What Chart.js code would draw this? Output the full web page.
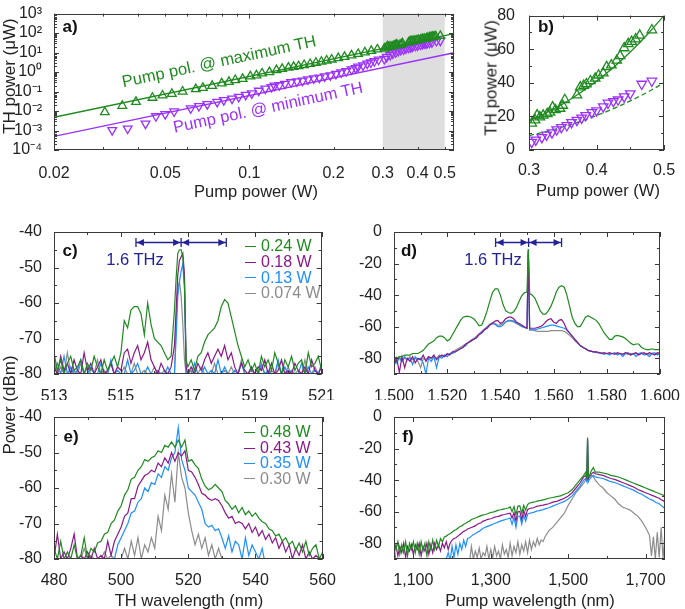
<!DOCTYPE html>
<html>
<head>
<meta charset="utf-8">
<script src="https://cdn.jsdelivr.net/npm/chart.js@4.4.1/dist/chart.umd.min.js"></script>
<style>
  body { margin: 0; background: #fff; }
  #fig { position: relative; width: 685px; height: 609px; overflow: hidden;
         font-family: "Liberation Sans", Arial, sans-serif; color: #222; }
  canvas { position: absolute; }
  .t { position: absolute; white-space: nowrap; line-height: 1; font-size: 16.5px;
       transform: translate(-50%, -50%); }
  .v { transform: translate(-50%, -50%) rotate(-90deg); font-size: 17px; }
  .p { font-weight: bold; font-size: 17px; color: #111; }
  .leg { position: absolute; white-space: nowrap; line-height: 1; font-size: 16px;
         transform: translateY(-50%); display: flex; align-items: center; }
  .leg i { display: inline-block; width: 11px; border-top: 1.5px solid currentColor; margin-right: 5px; }
</style>
</head>
<body>
<div id="fig">
  <canvas id="ca" width="462" height="200" style="left:0;top:0"></canvas>
  <canvas id="cb" width="223" height="200" style="left:462px;top:0"></canvas>
  <canvas id="cc" width="340" height="200" style="left:0;top:200px"></canvas>
  <canvas id="cd" width="345" height="200" style="left:340px;top:200px"></canvas>
  <canvas id="ce" width="340" height="209" style="left:0;top:400px"></canvas>
  <canvas id="cf" width="345" height="209" style="left:340px;top:400px"></canvas>

  <div class="t p" style="left:70px;top:26px">a)</div>
  <div class="t p" style="left:546px;top:26px">b)</div>
  <div class="t p" style="left:70px;top:250px">c)</div>
  <div class="t p" style="left:409px;top:250px">d)</div>
  <div class="t p" style="left:71px;top:436px">e)</div>
  <div class="t p" style="left:408px;top:436px">f)</div>

  <div class="t v" style="left:9px;top:76px">TH power (μW)</div>
  <div class="t v" style="left:491px;top:78px">TH power (μW)</div>
  <div class="t" style="left:256px;top:191px">Pump power (W)</div>
  <div class="t" style="left:598px;top:190px">Pump power (W)</div>
  <div class="t v" style="left:9px;top:405px">Power (dBm)</div>
  <div class="t" style="left:189px;top:600px">TH wavelength (nm)</div>
  <div class="t" style="left:530px;top:600px">Pump wavelength (nm)</div>

  <div class="t" style="left:219px;top:61px;font-size:16.5px;color:#1f8a1f;transform:translate(-50%,-50%) rotate(-12deg)">Pump pol. @ maximum TH</div>
  <div class="t" style="left:268px;top:107px;font-size:16.5px;color:#9b30ff;transform:translate(-50%,-50%) rotate(-12deg)">Pump pol. @ minimum TH</div>

  <div class="t" style="left:135px;top:259px;color:#232396">1.6 THz</div>
  <div class="t" style="left:493px;top:259px;color:#232396">1.6 THz</div>

  <div class="leg" style="left:245px;top:246px;color:#1f8a1f"><i></i>0.24 W</div>
  <div class="leg" style="left:245px;top:262px;color:#8b1a89"><i></i>0.18 W</div>
  <div class="leg" style="left:245px;top:277.5px;color:#1e90ff"><i></i>0.13 W</div>
  <div class="leg" style="left:245px;top:293px;color:#8c8c8c"><i></i>0.074 W</div>

  <div class="leg" style="left:244px;top:432px;color:#1f8a1f"><i></i>0.48 W</div>
  <div class="leg" style="left:244px;top:448px;color:#8b1a89"><i></i>0.43 W</div>
  <div class="leg" style="left:244px;top:463px;color:#1e90ff"><i></i>0.35 W</div>
  <div class="leg" style="left:244px;top:478.5px;color:#8c8c8c"><i></i>0.30 W</div>
</div>

<script>
const GREEN = "#1f8a1f", VIOLET = "#9b30ff", PURPLE = "#8b1a89", BLUE = "#1e90ff", GRAY = "#8c8c8c", NAVY = "#232396";

// ---- panel a / b : TH power vs pump power ----
const aGreenX = [0.0304,0.0351,0.0393,0.045,0.0489,0.0528,0.0577,0.0643,0.0682,0.0736,0.0796,0.0845,0.089,0.0946,0.1008,0.106,0.111,0.118,0.125,0.131,0.138,0.144,0.150,0.157,0.165,0.173,0.181,0.189,0.197,0.208,0.219,0.232,0.245,0.259,0.273,0.287];
const aGreenY = [0.0087,0.0186,0.0295,0.048,0.063,0.076,0.1,0.133,0.155,0.195,0.263,0.316,0.39,0.45,0.6,0.68,0.85,1.0,1.25,1.45,1.7,1.85,2.0,2.3,2.6,3.0,3.4,3.9,4.4,5.2,6.0,7.2,8.5,10.2,12.2,14.5];
const aPurpleX = [0.0323,0.0367,0.0425,0.0463,0.05,0.0538,0.0617,0.066,0.0707,0.0767,0.081,0.0867,0.0916,0.097,0.102,0.108,0.114,0.12,0.123,0.128,0.134,0.141,0.148,0.155,0.162,0.17,0.178,0.186,0.195,0.204,0.213,0.222,0.232,0.24,0.245,0.255,0.264,0.272,0.28,0.29];
const aPurpleY = [0.00105,0.00126,0.00224,0.0054,0.0069,0.0095,0.0138,0.018,0.0226,0.0295,0.036,0.043,0.053,0.067,0.081,0.11,0.14,0.17,0.2,0.21,0.25,0.3,0.33,0.36,0.42,0.47,0.52,0.6,0.68,0.8,0.95,1.1,1.35,1.6,1.9,2.2,2.7,3.1,3.6,4.3];
const aFitX = [0.02, 0.54];
const aFitGreen = [0.0048, 94];
const aFitPurple = [0.0005, 9.8];
const aShade = [0.3, 0.5];
const aXLabels = [0.02, 0.05, 0.1, 0.2, 0.3, 0.4, 0.5];
const aYTicks = [1e-4, 1e-3, 1e-2, 1e-1, 1, 10, 100, 1000];
const aYText = ["10\u207B\u2074", "10\u207B\u00B3", "10\u207B\u00B2", "10\u207B\u00B9", "10\u2070", "10\u00B9", "10\u00B2", "10\u00B3"];

const bGreenX = [0.304,0.309,0.312,0.316,0.321,0.327,0.331,0.335,0.339,0.346,0.350,0.353,0.371,0.376,0.381,0.385,0.391,0.398,0.403,0.410,0.415,0.422,0.430,0.435,0.441,0.447,0.452,0.458,0.464,0.482];
const bGreenY = [15.9,17.8,20.8,19.6,20.6,21.5,22.4,25.5,23.9,24.7,26.5,29.9,32.7,37.4,38.3,39.3,41.1,42.6,44.5,45.8,49.5,50.5,53.3,56.0,60.7,63.2,64.5,66.0,68.2,71.4];
const bPurpleX = [0.304,0.310,0.319,0.326,0.334,0.341,0.348,0.356,0.363,0.371,0.378,0.384,0.393,0.400,0.410,0.417,0.425,0.432,0.441,0.450,0.467,0.482];
const bPurpleY = [4.7,6.0,7.5,9.0,10.3,12.1,13.5,14.6,16.4,17.8,19.1,20.6,22.4,23.4,25.8,28.0,29.0,29.9,31.8,33.6,39.3,41.1];
const bFitX = [0.30,0.325,0.35,0.375,0.40,0.425,0.45,0.475,0.50];
const bFitSolid = [17.3,22,27.4,33.8,41,49.1,58.3,68.6,80];
const bFitDashed = [8.6,11,13.7,16.9,20.5,24.6,29.2,34.3,40];

// ---- panel c : TH spectra, low pump ----
const cX = [513.0,513.1,513.2,513.3,513.4,513.5,513.6,513.7,513.8,513.9,
  514.0,514.1,514.2,514.3,514.4,514.5,514.6,514.7,514.8,514.9,
  515.0,515.1,515.2,515.3,515.4,515.5,515.6,515.7,515.8,515.9,
  516.0,516.1,516.2,516.3,516.4,516.5,516.6,516.65,516.7,516.75,516.8,516.85,516.9,516.95,
  517.0,517.1,517.2,517.3,517.4,517.5,517.6,517.7,517.8,517.9,
  518.0,518.1,518.2,518.3,518.4,518.5,518.6,518.7,518.8,518.9,
  519.0,519.1,519.2,519.3,519.4,519.5,519.6,519.7,519.8,519.9,
  520.0,520.1,520.2,520.3,520.4,520.5,520.6,520.7,520.8,520.9,521.0];
const cGreen = [-74,-79,-76,-80,-77,-75,-79,-78,-76,-80,
  -77,-79,-75,-78,-80,-76,-79,-77,-75,-78,
  -74,-65,-67,-62,-61,-61,-63,-69,-60,-66,
  -70,-71,-72,-74,-76,-75,-62,-53,-46,-45,-45,-47,-55,-76,
  -78,-76,-79,-75,-74,-71,-69,-68,-67,-65,
  -61,-59,-60,-64,-68,-72,-75,-78,-76,-79,
  -77,-80,-75,-78,-76,-79,-74,-77,-80,-76,
  -78,-75,-79,-77,-76,-80,-74,-78,-77,-75,-79];
const cPurple = [-78,-80,-75,-79,-77,-80,-76,-79,-80,-74,
  -79,-77,-80,-78,-76,-80,-79,-77,-80,-78,
  -79,-74,-73,-77,-74,-72,-76,-74,-71,-76,
  -78,-80,-77,-79,-80,-78,-72,-62,-52,-48,-47,-46,-52,-78,
  -80,-78,-80,-77,-79,-76,-74,-77,-75,-73,
  -75,-72,-76,-74,-78,-80,-77,-79,-80,-78,
  -80,-78,-79,-76,-80,-77,-80,-79,-76,-80,
  -79,-80,-77,-79,-80,-78,-80,-76,-79,-80,-78];
const cBlue = [-80,-77,-80,-75,-80,-78,-80,-79,-76,-80,
  -80,-78,-80,-80,-77,-80,-80,-76,-80,-79,
  -80,-80,-76,-80,-79,-77,-80,-80,-78,-80,
  -80,-79,-80,-80,-78,-80,-80,-70,-58,-54,-51,-49,-56,-80,
  -80,-80,-77,-80,-80,-78,-80,-79,-80,-76,
  -80,-78,-80,-80,-79,-80,-77,-80,-80,-78,
  -80,-80,-77,-80,-79,-80,-80,-76,-80,-78,
  -80,-79,-80,-80,-77,-80,-78,-80,-79,-80,-77];
const cGray = [-76,-80,-78,-80,-74,-80,-79,-80,-77,-80,
  -78,-80,-80,-76,-80,-79,-80,-77,-80,-80,
  -80,-78,-80,-80,-77,-80,-80,-79,-80,-80,
  -78,-80,-80,-79,-80,-80,-80,-66,-56,-54,-58,-66,-76,-80,
  -80,-79,-80,-80,-78,-80,-80,-80,-77,-80,
  -80,-79,-80,-78,-80,-80,-76,-80,-80,-79,
  -80,-80,-78,-80,-80,-79,-80,-77,-80,-80,
  -78,-80,-80,-79,-80,-76,-80,-80,-78,-80,-80];
const cThz = [515.45, 516.8, 518.15];

// ---- panel d : pump spectra, low pump ----
const dX = [1500,1501,1502,1503,1504,1505,1506,1507,1508,1509,
  1510,1511,1512,1513,1514,1515,1516,1517,1518,1519,
  1520,1521,1522,1523,1524,1525,1526,1527,1528,1529,
  1530,1531,1532,1533,1534,1535,1536,1537,1538,1539,
  1540,1541,1542,1543,1544,1545,1546,1547,1548,1549,
  1550,1550.5,1551,1552,1553,1554,1555,1556,1557,1558,1559,
  1560,1561,1562,1563,1564,1565,1566,1567,1568,1569,
  1570,1571,1572,1573,1574,1575,1576,1577,1578,1579,
  1580,1581,1582,1583,1584,1585,1586,1587,1588,1589,
  1590,1591,1592,1593,1594,1595,1596,1597,1598,1599,1600];
const dGreen = [-79,-80,-79,-79,-78,-78,-78,-77,-77,-77,
  -76,-75,-73,-71,-70,-69,-67,-66,-66,-67,
  -69,-68,-65,-62,-59,-56,-54,-53.5,-53.5,-54,
  -55,-57,-59.5,-59,-55,-50,-44,-38.5,-36,-36,
  -40,-46,-50,-51,-51.5,-50.5,-48,-44,-40.5,-38.5,
  -38,-11,-39,-40,-42,-46,-50,-52,-52,-50,-47,
  -43,-38,-35,-34,-35,-40,-47,-54,-58,-60,
  -60,-57,-54,-53,-54,-55,-56,-58,-61,-64,
  -66,-68,-68,-66,-65.5,-66,-66.5,-67.5,-69,-70.5,
  -71.5,-71,-71,-73,-74,-74.5,-74.5,-74,-74.5,-74.5,-74.5];
const dPurple = [-85,-80,-89,-79,-86,-80,-82,-79,-83,-80,
  -81,-78,-82,-79,-80,-78,-81,-79,-78,-79,
  -77,-78,-76,-76,-75,-74,-73,-71,-70,-69,
  -68,-67,-65,-64,-62,-61,-59,-58,-56.5,-56,
  -58,-57,-55,-54,-54,-55,-57,-58,-59,-60,
  -61,-12,-61,-61,-61,-60.5,-60,-59,-57,-55.5,-55,
  -57,-58,-56,-55.5,-58,-62,-64,-66,-68,-70,
  -72,-73,-74,-75,-75.5,-76,-76,-76.5,-77,-76.5,
  -77,-76.5,-77,-77.5,-76.5,-77,-77.5,-76.5,-77,-78,
  -77,-76.5,-78,-77,-76.5,-77.5,-76.5,-77,-78,-76.5,-77];
const dBlue = [-79,-83,-80,-82,-79,-81,-80,-84,-79,-81,
  -80,-83,-90,-80,-82,-79,-86,-79,-80,-78,
  -79,-77,-77,-76,-75,-74,-73,-72,-70,-69,
  -68,-67,-65,-63.5,-62,-60.5,-59,-58,-58.5,-60,
  -60,-59,-57,-56,-56,-56.5,-57.5,-58.5,-59.5,-60.5,
  -61,-11,-62,-62,-62,-61.5,-61,-60.5,-60,-59.5,-59,
  -59,-59.5,-60,-60.5,-61,-62,-64,-66,-68,-70,
  -72,-73,-74,-75,-75.5,-76,-76.5,-76.5,-77,-77.5,
  -77,-78,-77,-76.5,-78,-77,-79,-77,-76.5,-78,
  -77,-79,-77,-76.5,-78,-77.5,-79,-77,-76.5,-78,-77];
const dGray = [-80,-81,-79,-82,-80,-81,-79,-81,-80,-82,
  -86,-80,-81,-79,-80,-79,-80,-78,-79,-78,
  -78,-77,-76,-75,-74,-73,-72,-71,-70,-68.5,
  -67.5,-66,-64.5,-63,-61.5,-60,-58.5,-57.5,-58,-59,
  -59,-58,-57,-56.5,-56.5,-57,-58,-59,-60,-60.5,
  -61,-14,-62,-62,-62.5,-63,-63,-63,-63,-63,-62.5,
  -62.5,-62.5,-62.5,-62.5,-63,-64,-65.5,-67,-69,-70.5,
  -72,-73,-74,-75,-75.5,-76,-76,-76.5,-76.5,-77,
  -77,-77,-77,-77,-77,-77,-77.5,-77,-77.5,-77,
  -77.5,-77,-77.5,-77,-77.5,-77,-77.5,-77,-77.5,-77,-77];
const dThz = [1538.2, 1550.6, 1563];

// ---- panel e : TH spectra, high pump ----
const eX = [480,481,482,483,484,485,486,487,488,489,490,491,492,493,494,495,496,497,498,499,
  500,501,502,503,504,505,506,507,508,509,510,511,512,513,514,515,516,517,518,519,
  520,521,522,523,524,525,526,527,528,529,530,531,532,533,534,535,536,537,538,539,
  540,541,542,543,544,545,546,547,548,549,550,551,552,553,554,555,556,557,558,559,560];
const eGreen = [-77,-80,-75,-80,-78,-80,-76,-80,-79,-74,
  -80,-77,-78,-75.5,-75,-73,-72.5,-70,-69,-66.5,
  -65,-62,-60.5,-57.5,-57,-55,-54,-52,-52.5,-51.5,
  -51,-49.5,-50,-48,-48.5,-47,-48.5,-46.5,-48.5,-46.5,
  -52.5,-52,-53.5,-54.5,-57.5,-59.5,-60.5,-60,-59,-60,
  -61,-63.5,-64.5,-66,-65,-67,-65.5,-67.5,-66.5,-68,
  -67,-68.5,-69.5,-70,-71.5,-72,-73.5,-73,-75,-74,
  -76,-75,-77.5,-75.5,-78,-75,-79,-77,-76,-80,-78];
const ePurple = [-80,-73,-80,-78,-80,-77,-73,-80,-79,-80,
  -78,-80,-77,-80,-79,-80,-75,-79,-75,-73,
  -71,-68,-67,-63,-63,-59.5,-58,-56.5,-56,-55,
  -55.5,-53,-54,-51.5,-53,-50,-52.5,-50,-51,-49.5,
  -55,-55.5,-57,-59,-61.5,-62,-63,-63.5,-63,-63.5,
  -65,-67,-68.5,-68,-70,-69.5,-70,-71.5,-70,-72.5,
  -71,-73.5,-72,-74.5,-73,-75.5,-74,-77,-75,-78,
  -76,-80,-77,-79,-76,-80,-78,-80,-79,-80,-80];
const eBlue = [-82,-83,-81,-84,-82,-83,-85,-82,-83,-82,
  -84,-83,-82,-85,-82,-83,-82,-84,-80,-76,
  -74,-72,-70,-67,-66.5,-64,-63,-60,-61,-58.5,
  -59,-56,-57,-54,-55,-51.5,-50,-43,-52,-55,
  -60,-61,-62,-64,-66,-70,-71,-70.5,-72,-71.5,
  -74,-77,-73.5,-78,-75,-76,-80,-74,-79,-76,
  -78,-80,-77,-82,-83,-84,-82,-85,-83,-84,
  -83,-82,-84,-83,-85,-82,-83,-84,-82,-83,-84];
const eGray = [-84,-83,-85,-82,-84,-83,-85,-84,-80,-77,
  -80,-79,-80,-81,-80,-78,-80,-79,-80,-81,
  -80,-77,-80,-75,-79,-74,-80,-76,-78,-74,
  -77,-68,-72,-62,-66,-56,-64,-50,-57,-60,
  -67,-72,-76,-73,-77,-74,-79,-76,-80,-77,
  -80,-82,-81,-83,-82,-84,-83,-82,-84,-83,
  -84,-83,-82,-85,-83,-84,-82,-83,-85,-84,
  -83,-84,-82,-85,-83,-84,-82,-83,-85,-84,-83];

// ---- panel f : pump spectra, high pump ----
const fX = [1050,1055,1060,1065,1070,1075,1080,1085,1090,1095,
  1100,1105,1110,1115,1120,1125,1130,1135,1140,1145,
  1150,1155,1160,1165,1170,1175,1180,1185,1190,1195,
  1200,1205,1210,1215,1220,1225,1230,1235,1240,1245,
  1250,1255,1260,1265,1270,1275,1280,1285,1290,1295,
  1300,1305,1310,1315,1320,1325,1330,1335,1340,1345,
  1350,1355,1360,1365,1370,1375,1380,1385,1390,1395,
  1400,1405,1410,1415,1420,1425,1430,1435,1440,
  1450,1460,1470,1480,1490,1500,1510,1520,1530,1540,
  1545,1548,1550,1552,1555,1560,1565,1570,
  1580,1590,1600,1610,1620,1630,1640,1650,1660,1670,1680,1690,1700,1710,
  1715,1720,1725,1730,1735,1740,1745,1750];
const fGreen = [-80,-84,-79,-87,-81,-86,-79,-88,-80,-84,
  -79,-86,-80,-87,-79,-85,-80,-88,-79,-84,
  -78,-84,-78,-82,-77,-79,-76,-75.5,-74.5,-74,
  -73,-72,-71.5,-70.5,-69.5,-69,-68,-67.5,-66.5,-66,
  -65,-64.5,-64,-63.5,-63,-62.5,-62,-61.8,-61.5,-61,
  -60.5,-60.3,-60,-59.5,-59,-58.8,-58.5,-58.2,-58,-57.7,
  -57,-60,-56.8,-62,-56.5,-56.3,-61,-56,-59,-55.5,
  -54.5,-54.3,-54,-53.7,-53.3,-53,-52.8,-52.5,-52.2,
  -51.5,-51,-50.5,-50,-49,-48,-46,-43,-40,-37,
  -35,-38,-13,-38,-37,-34,-32,-35,
  -35,-35.5,-36,-37,-37.5,-38,-39,-40,-41,-42,-43,-44,-45,-46,
  -46.5,-47,-47.5,-48,-48.5,-49,-49.5,-50];
const fPurple = [-85,-81,-88,-82,-86,-80,-89,-82,-85,-81,
  -87,-81,-84,-80,-88,-82,-85,-80,-87,-81,
  -86,-80,-84,-81,-85,-80,-83,-79,-84,-80,
  -78,-77,-76.5,-75.5,-74.5,-73.5,-72.5,-72,-71,-70.5,
  -70,-69.5,-69,-68,-67.5,-67,-66,-65.7,-65,-64.7,
  -64.5,-64,-63.5,-63.2,-63,-62.5,-62,-61.8,-61.5,-61.2,
  -61,-64,-60.5,-66,-60,-59.8,-65,-59.2,-63,-58.7,
  -58,-57.7,-57.5,-57,-56.5,-56.3,-56,-55.8,-55.5,
  -55,-54,-53.5,-52.5,-51.5,-50,-48,-45,-42,-38,
  -37,-39,-14,-39,-38,-36,-35,-36,
  -36.5,-37,-38,-39,-39.5,-40.5,-41.5,-42.5,-43.5,-44.5,-46,-47,-48,-49,
  -49.5,-50,-50.5,-51,-51.5,-52.5,-53,-54];
const fBlue = [-82,-91,-95,-95,-95,-95,-95,-95,-95,-95,
  -95,-95,-95,-95,-95,-95,-95,-95,-95,-95,
  -95,-95,-95,-95,-95,-92,-95,-90,-86,-91,
  -82,-89,-81,-87,-80,-84,-78,-82,-77,-76.5,
  -75.5,-74.5,-74,-73,-72.5,-71.5,-70.5,-70,-69.5,-69,
  -68.5,-68,-67.5,-67,-66.5,-66,-65.5,-65.2,-64.8,-64.5,
  -64,-68,-63.5,-70,-63,-62.7,-68,-62.2,-66,-61.7,
  -61,-60.8,-60.5,-60,-59.5,-59.3,-59,-58.7,-58.2,
  -57.5,-56.5,-55.5,-54.5,-53.5,-52,-50,-47,-44,-40,
  -39,-41,-15,-41,-39.5,-38,-37,-38,
  -38.5,-39,-40,-41,-41.5,-42.5,-43.5,-44.5,-45.5,-46.5,-48,-49,-50.5,-52,
  -52.5,-53,-54,-54.5,-55,-56,-57,-58];
const fGray = [-95,-95,-95,-95,-95,-95,-95,-95,-95,-95,
  -95,-95,-95,-95,-95,-95,-95,-95,-95,-95,
  -95,-95,-95,-95,-95,-95,-95,-95,-95,-95,
  -95,-95,-95,-95,-95,-95,-95,-95,-95,-92,
  -82,-90,-85,-89,-83,-90,-86,-88,-82,-90,
  -84,-89,-82,-88,-85,-90,-81,-87,-84,-89,
  -80,-88,-82,-86,-79,-87,-81,-85,-79,-86,
  -78,-84,-79,-82,-77,-81,-78,-79,-76,
  -72,-70,-67,-64,-61,-56,-52,-48,-45,-42,
  -40,-38,-28,-38,-37,-37,-38,-40,
  -43,-45,-48,-50,-52,-55,-57,-58,-59,-61,-63,-66,-70,-75,
  -88,-76,-90,-73,-89,-70,-90,-72];

Chart.defaults.font.family = "'Liberation Sans', Arial, sans-serif";
Chart.defaults.font.size = 16;
Chart.defaults.color = "#222";

// box with inward ticks on all four sides
const framePlugin = {
  id: "frame",
  afterDatasetsDraw(chart, args, o) {
    const { ctx, chartArea: a, scales: { x, y } } = chart;
    ctx.save();
    ctx.strokeStyle = "#3a3a3a";
    ctx.lineWidth = 1;
    ctx.beginPath();
    const mark = (vals, len, isX) => (vals || []).forEach(v => {
      if (isX) {
        const p = Math.round(x.getPixelForValue(v)) + 0.5;
        ctx.moveTo(p, a.bottom); ctx.lineTo(p, a.bottom - len);
        ctx.moveTo(p, a.top); ctx.lineTo(p, a.top + len);
      } else {
        const p = Math.round(y.getPixelForValue(v)) + 0.5;
        ctx.moveTo(a.left, p); ctx.lineTo(a.left + len, p);
        ctx.moveTo(a.right, p); ctx.lineTo(a.right - len, p);
      }
    });
    mark(o.xMaj, 5, true); mark(o.xMin, 3, true);
    mark(o.yMaj, 5, false); mark(o.yMin, 3, false);
    ctx.stroke();
    ctx.strokeRect(Math.round(a.left) + 0.5, Math.round(a.top) + 0.5,
      Math.round(a.right - a.left) - 1, Math.round(a.bottom - a.top) - 1);
    ctx.restore();
  }
};

const shadePlugin = {
  id: "shade",
  beforeDatasetsDraw(chart, args, o) {
    if (!o.range) return;
    const { ctx, chartArea: a, scales: { x } } = chart;
    const l = x.getPixelForValue(o.range[0]), r = x.getPixelForValue(o.range[1]);
    ctx.save();
    ctx.fillStyle = "#dedede";
    ctx.fillRect(l, a.top, r - l, a.bottom - a.top);
    ctx.restore();
  }
};

// 1.6 THz spacing arrows
const thzPlugin = {
  id: "thz",
  afterDatasetsDraw(chart, args, o) {
    if (!o.pts) return;
    const { ctx, scales: { x, y } } = chart;
    const py = Math.round(y.getPixelForValue(o.y)) + 0.5;
    const px = o.pts.map(v => x.getPixelForValue(v));
    ctx.save();
    ctx.strokeStyle = NAVY; ctx.fillStyle = NAVY; ctx.lineWidth = 1.3;
    ctx.beginPath();
    px.forEach(p => { ctx.moveTo(p, py - 4.5); ctx.lineTo(p, py + 4.5); });
    ctx.moveTo(px[0], py); ctx.lineTo(px[2], py);
    ctx.stroke();
    const head = (p, dir) => {
      ctx.beginPath();
      ctx.moveTo(p, py);
      ctx.lineTo(p - dir * 7, py - 3.5);
      ctx.lineTo(p - dir * 7, py + 3.5);
      ctx.closePath(); ctx.fill();
    };
    head(px[0] + 1, -1); head(px[1] - 1, 1); head(px[1] + 1, -1); head(px[2] - 1, 1);
    ctx.restore();
  }
};

function options(p) {
  return {
    responsive: false, animation: false, events: [],
    layout: { padding: { top: p.top, right: p.right, left: 0, bottom: 0 } },
    plugins: {
      legend: { display: false }, tooltip: { enabled: false },
      frame: p.frame, shade: p.shade || {}, thz: p.thz || {}
    },
    scales: {
      x: {
        type: p.xType || "linear", min: p.xMin, max: p.xMax,
        grid: { display: false }, border: { display: false },
        ticks: { padding: p.xPad, autoSkip: false, maxRotation: 0, minRotation: 0,
                 callback: p.xFmt || (v => String(v)) },
        afterBuildTicks: s => { s.ticks = p.xLabels.map(v => ({ value: v })); },
        afterFit: s => { s.height = p.xH; }
      },
      y: {
        type: p.yType || "linear", min: p.yMin, max: p.yMax,
        grid: { display: false }, border: { display: false },
        ticks: { padding: p.yPad, autoSkip: false, callback: p.yFmt || (v => String(v)) },
        afterBuildTicks: s => { s.ticks = p.yLabels.map(v => ({ value: v })); },
        afterFit: s => { s.width = p.yW; }
      }
    }
  };
}

const pts = (xs, ys) => xs.map((x, i) => ({ x, y: ys[i] }));
const commas = v => v.toLocaleString("en-US");

// a)
const aLogMinors = [];
for (let e = -4; e < 3; e++) for (let m = 2; m < 10; m++) aLogMinors.push(m * Math.pow(10, e));
new Chart(document.getElementById("ca"), {
  type: "scatter",
  data: { datasets: [
    { data: pts(aGreenX.concat(bGreenX), aGreenY.concat(bGreenY)), pointStyle: "triangle", pointRadius: 5,
      borderColor: GREEN, backgroundColor: "rgba(0,0,0,0)", pointBorderWidth: 1.3 },
    { data: pts(aPurpleX.concat(bPurpleX), aPurpleY.concat(bPurpleY)), pointStyle: "triangle", rotation: 180, pointRadius: 5,
      borderColor: VIOLET, backgroundColor: "rgba(0,0,0,0)", pointBorderWidth: 1.3 },
    { data: pts(aFitX, aFitGreen), showLine: true, pointRadius: 0, borderColor: GREEN, borderWidth: 1.3 },
    { data: pts(aFitX, aFitPurple), showLine: true, pointRadius: 0, borderColor: VIOLET, borderWidth: 1.3 }
  ]},
  options: options({
    top: 8, right: 5, yW: 54, xH: 50, xPad: 6, yPad: 4,
    xType: "logarithmic", xMin: 0.02, xMax: 0.54, xLabels: aXLabels,
    yType: "logarithmic", yMin: 1e-4, yMax: 1e3, yLabels: aYTicks, yFmt: (v, i) => aYText[i],
    shade: { range: aShade },
    frame: { xMaj: [0.1], xMin: [0.02,0.03,0.04,0.05,0.06,0.07,0.08,0.09,0.2,0.3,0.4,0.5],
             yMaj: aYTicks, yMin: aLogMinors }
  }),
  plugins: [shadePlugin, framePlugin]
});

// b)
new Chart(document.getElementById("cb"), {
  type: "scatter",
  data: { datasets: [
    { data: pts(bGreenX, bGreenY), pointStyle: "triangle", pointRadius: 5.5,
      borderColor: GREEN, backgroundColor: "rgba(0,0,0,0)", pointBorderWidth: 1.3 },
    { data: pts(bPurpleX, bPurpleY), pointStyle: "triangle", rotation: 180, pointRadius: 5.5,
      borderColor: VIOLET, backgroundColor: "rgba(0,0,0,0)", pointBorderWidth: 1.3 },
    { data: pts(bFitX, bFitSolid), showLine: true, pointRadius: 0, borderColor: GREEN, borderWidth: 1.3, tension: 0.4 },
    { data: pts(bFitX, bFitDashed), showLine: true, pointRadius: 0, borderColor: GREEN, borderWidth: 1.3,
      borderDash: [5, 3], tension: 0.4 }
  ]},
  options: options({
    top: 7, right: 21, yW: 67, xH: 50, xPad: 3, yPad: 6,
    xMin: 0.3, xMax: 0.5, xLabels: [0.3, 0.4, 0.5],
    yMin: 0, yMax: 80, yLabels: [0, 20, 40, 60, 80],
    frame: { xMaj: [0.3, 0.4, 0.5], xMin: [0.35, 0.45], yMaj: [0, 20, 40, 60, 80], yMin: [10, 30, 50, 70] }
  }),
  plugins: [framePlugin]
});

function spectrum(id, xs, series, p) {
  return new Chart(document.getElementById(id), {
    type: "line",
    data: { datasets: series.map(s => ({
      data: pts(xs, s[1]), borderColor: s[0], borderWidth: 1.2, pointRadius: 0, tension: 0
    })) },
    options: options(p),
    plugins: [framePlugin, thzPlugin]
  });
}

spectrum("cc", cX, [[GREEN, cGreen], [PURPLE, cPurple], [BLUE, cBlue], [GRAY, cGray]], {
  top: 32, right: 15, yW: 54, xH: 26, xPad: 5, yPad: 4,
  xMin: 513, xMax: 521, xLabels: [513, 515, 517, 519, 521],
  yMin: -80, yMax: -40, yLabels: [-80, -70, -60, -50, -40],
  thz: { y: -42.8, pts: cThz },
  frame: { xMaj: [513, 515, 517, 519, 521], xMin: [514, 516, 518, 520],
           yMaj: [-80, -70, -60, -50, -40], yMin: [-75, -65, -55, -45] }
});

spectrum("cd", dX, [[GREEN, dGreen], [PURPLE, dPurple], [BLUE, dBlue], [GRAY, dGray]], {
  top: 32, right: 20, yW: 54, xH: 26, xPad: 5, yPad: 4,
  xMin: 1500, xMax: 1600, xLabels: [1500, 1520, 1540, 1560, 1580, 1600], xFmt: commas,
  yMin: -90, yMax: 0, yLabels: [-80, -60, -40, -20, 0],
  thz: { y: -6.3, pts: dThz },
  frame: { xMaj: [1500, 1520, 1540, 1560, 1580, 1600], xMin: [1510, 1530, 1550, 1570, 1590],
           yMaj: [-80, -60, -40, -20, 0], yMin: [-90, -70, -50, -30, -10] }
});

spectrum("ce", eX, [[GREEN, eGreen], [PURPLE, ePurple], [BLUE, eBlue], [GRAY, eGray]], {
  top: 17, right: 15, yW: 54, xH: 50, xPad: 4, yPad: 4,
  xMin: 480, xMax: 560, xLabels: [480, 500, 520, 540, 560],
  yMin: -80, yMax: -40, yLabels: [-80, -70, -60, -50, -40],
  frame: { xMaj: [480, 500, 520, 540, 560], xMin: [490, 510, 530, 550],
           yMaj: [-80, -70, -60, -50, -40], yMin: [-75, -65, -55, -45] }
});

spectrum("cf", fX, [[GREEN, fGreen], [PURPLE, fPurple], [BLUE, fBlue], [GRAY, fGray]], {
  top: 17, right: 20, yW: 54, xH: 50, xPad: 4, yPad: 4,
  xMin: 1050, xMax: 1750, xLabels: [1100, 1300, 1500, 1700], xFmt: commas,
  yMin: -90, yMax: 0, yLabels: [-80, -60, -40, -20, 0],
  frame: { xMaj: [1100, 1300, 1500, 1700], xMin: [1200, 1400, 1600],
           yMaj: [-80, -60, -40, -20, 0], yMin: [-90, -70, -50, -30, -10] }
});
</script>
</body>
</html>
